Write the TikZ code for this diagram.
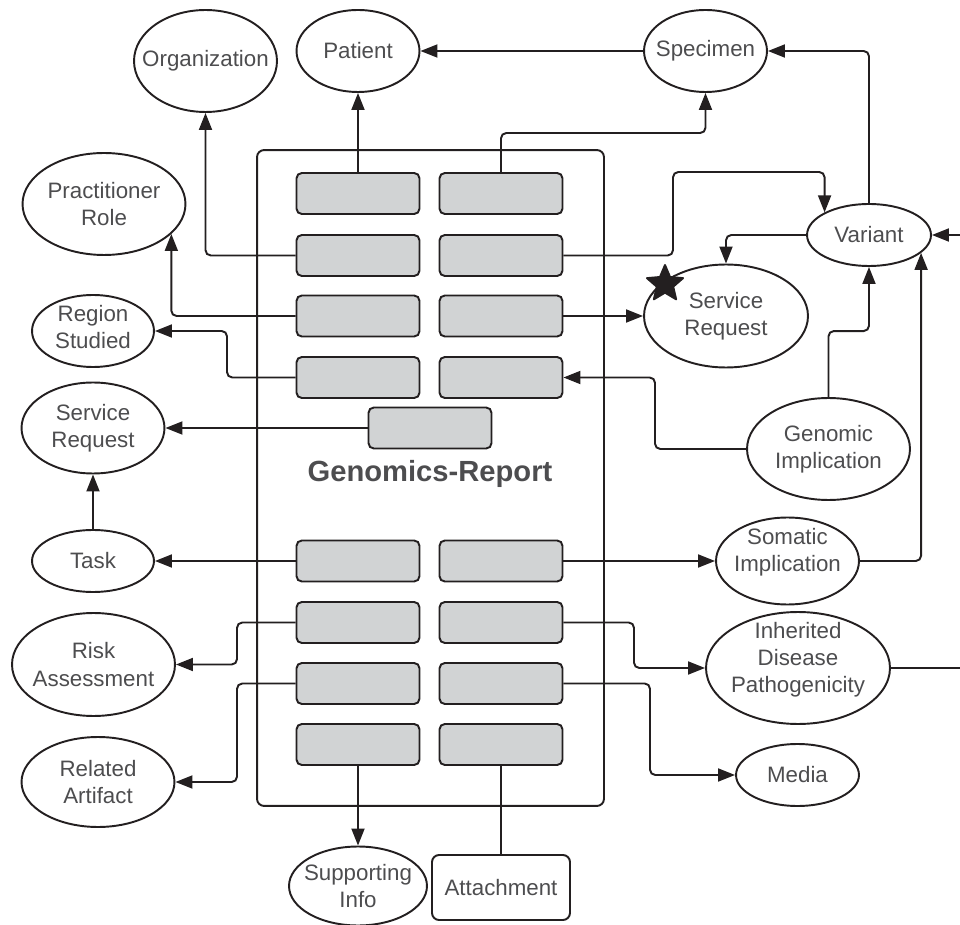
\documentclass[tikz,border=0pt]{standalone}
\usepackage{fontspec}
\setmainfont{Liberation Sans}
\usetikzlibrary{arrows.meta,shapes.geometric}
\definecolor{fieldgrey}{HTML}{D1D3D4}
\definecolor{inkgrey}{HTML}{4D4D4F}
\definecolor{lineblack}{HTML}{231F20}
\newcommand{\entfont}{\fontsize{12.7}{15.4}\selectfont}

\begin{document}
\begin{tikzpicture}[x=0.02cm,y=-0.02cm,>={Triangle[length=0.34cm,width=0.26cm]},line width=1.1pt,color=lineblack,
  entity/.style={ellipse,draw,inner sep=0pt,inner xsep=-1cm,inner ysep=-0.3cm,align=center,text=inkgrey,font=\entfont},
  field/.style={draw,rounded corners=3pt,fill=fieldgrey,minimum width=2.46cm,minimum height=0.82cm},
  link/.style={->,rounded corners=3pt}]
  \path[use as bounding box,clip] (0,0) rectangle (960,925);

  \node[draw,rounded corners=4pt,minimum width=6.94cm,minimum height=13.12cm] (report) at (430.5,478) {};
  \node[text=inkgrey,font=\bfseries\fontsize{16.6}{20}\selectfont] (title) at (430,474) {Genomics-Report};

  \node[field] (L1) at (358,193.5) {};
  \node[field] (R1) at (501,193.5) {};
  \node[field] (L2) at (358,255.5) {};
  \node[field] (R2) at (501,255.5) {};
  \node[field] (L3) at (358,316) {};
  \node[field] (R3) at (501,316) {};
  \node[field] (L4) at (358,377.5) {};
  \node[field] (R4) at (501,377.5) {};
  \node[field] (M) at (430,428) {};
  \node[field] (L5) at (358,561) {};
  \node[field] (R5) at (501,561) {};
  \node[field] (L6) at (358,622.5) {};
  \node[field] (R6) at (501,622.5) {};
  \node[field] (L7) at (358,683.5) {};
  \node[field] (R7) at (501,683.5) {};
  \node[field] (L8) at (358,744.5) {};
  \node[field] (R8) at (501,744.5) {};

  \node[entity,minimum width=2.86cm,minimum height=2.04cm] (org) at (205.5,61) {Organization};
  \node[entity,minimum width=2.46cm,minimum height=1.64cm] (patient) at (358,51) {Patient};
  \node[entity,minimum width=2.46cm,minimum height=1.64cm] (specimen) at (705.5,51) {Specimen};
  \node[entity,minimum width=3.26cm,minimum height=2.04cm] (prole) at (104,204) {Practitioner\\Role};
  \node[entity,minimum width=2.44cm,minimum height=1.44cm,text depth=0.16cm] (region) at (93,331) {Region\\Studied};
  \node[entity,minimum width=2.86cm,minimum height=1.82cm] (sreqL) at (93,428) {Service\\Request};
  \node[entity,minimum width=2.44cm,minimum height=1.24cm] (task) at (93,561) {Task};
  \node[entity,minimum width=3.26cm,minimum height=2.06cm] (risk) at (93.5,664.5) {Risk\\Assessment};
  \node[entity,minimum width=3.06cm,minimum height=1.8cm] (artifact) at (98,782) {Related\\Artifact};
  \node[entity,minimum width=2.76cm,minimum height=1.58cm] (suppinfo) at (358,886) {Supporting\\Info};
  \node[draw,rounded corners=4pt,minimum width=2.76cm,minimum height=1.3cm,text=inkgrey,font=\entfont] (attach) at (501,887.5) {Attachment};
  \node[entity,minimum width=2.46cm,minimum height=1.24cm] (media) at (797.5,775) {Media};
  \node[entity,minimum width=3.68cm,minimum height=2.24cm,text depth=0.41cm] (idp) at (798,668) {Inherited\\Disease\\Pathogenicity};
  \node[entity,minimum width=2.86cm,minimum height=1.74cm,text depth=0.45cm] (somatic) at (787.5,561) {Somatic\\Implication};
  \node[entity,minimum width=3.26cm,minimum height=2.04cm] (genomic) at (828.5,449) {Genomic\\Implication};
  \node[entity,minimum width=3.28cm,minimum height=2.06cm] (sreqR) at (726,316) {Service\\Request};
  \node[entity,minimum width=2.48cm,minimum height=1.24cm] (variant) at (869,235) {Variant};
  \node[star,star points=5,star point ratio=2.2,fill=lineblack,draw,line join=round,inner sep=0pt,minimum size=0.76cm] (flag) at (665,284) {};

  \draw[link] (L1.north) -- (patient.south);
  \draw[link] (specimen.west) -- (patient.east);
  \draw[link] (R1.north) -- (R1.north |- 0,133) -| (specimen.south);
  \draw[link] (variant.north) |- (specimen.east);
  \draw[link] (L2.west) -| (org.south);
  \draw[link] (R2.east) -| (673,172) -| (variant.153.6);
  \draw[link] (variant.west) -| (sreqR.north);
  \draw[link] (L3.west) -| (prole.-24.4);
  \draw[link] (R3.east) -- (sreqR.west);
  \draw[link] (L4.west) -| (227,331) -- (region.east);
  \draw[link] (genomic.west) -| (655,377.5) -- (R4.east);
  \draw[link] (genomic.north) -- ++(0,-66) -| (variant.south);
  \draw[link] (M.west) -- (sreqL.east);
  \draw[link] (task.north) -- (sreqL.south);
  \draw[link] (L5.west) -- (task.east);
  \draw[link] (R5.east) -- (somatic.west);
  \draw[link] (somatic.east) -| (variant.-19);
  \draw[link] (idp.east) -- (975,668) |- (variant.east);
  \draw[link] (L6.west) -| (237,664.5) -- (risk.east);
  \draw[link] (L7.west) -| (237,782) -- (artifact.east);
  \draw[link] (R6.east) -| (634,668) -- (idp.west);
  \draw[link] (R7.east) -| (650,775) -- (media.west);
  \draw[link] (L8.south) -- (suppinfo.north);
  \draw (R8.south) -- (attach.north);
\end{tikzpicture}
\end{document}
